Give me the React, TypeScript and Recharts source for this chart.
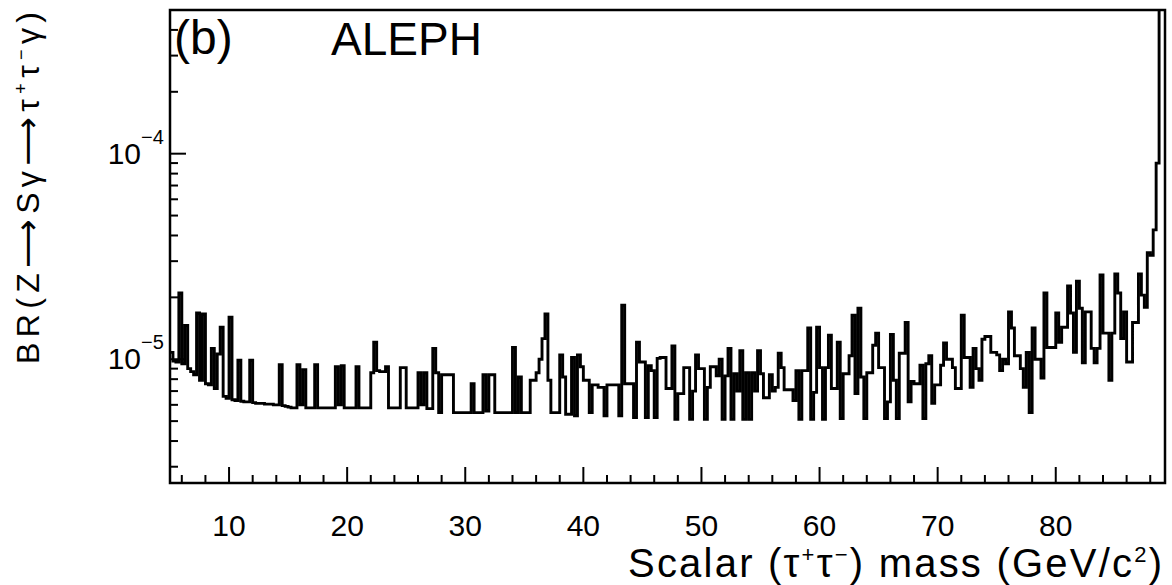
import React from 'react';
import { LineChart, Line, XAxis, YAxis, ReferenceArea } from 'recharts';

// Histogram binning (GeV)
const BIN_START = 5;
const BIN_WIDTH = 0.25;
const MASS_MAX = 89.25;

// 95% CL upper limit on BR(Z -> S gamma -> tau tau gamma), per 0.25 GeV bin, in units of 1e-6
const br05to15 = [10.8, 9.8, 9.7, 21, 9.5, 14.6, 9.0, 8.7, 8.4, 16.8,
  7.9, 16.6, 7.6, 7.5, 11.3, 7.2, 10.6, 14.3, 6.6, 6.45,
  16, 6.35, 6.3, 9.9, 6.25, 6.2, 6.2, 9.9, 6.15, 6.1,
  6.1, 6.1, 6.05, 6.05, 6.05, 6.0, 6.0, 9.4, 5.95, 5.9];
const br15to25 = [5.85, 5.8, 5.8, 9.4, 6.0, 8.9, 5.8, 5.8, 5.8, 9.4,
  5.8, 5.8, 5.8, 5.8, 5.8, 5.8, 9.2, 6.0, 9.3, 5.8,
  5.8, 5.8, 5.8, 9.2, 5.8, 5.8, 5.8, 5.8, 8.6, 12.1,
  8.8, 8.7, 8.7, 9.2, 5.8, 5.8, 5.8, 5.8, 9.1, 9.1];
const br25to35 = [5.8, 5.8, 5.8, 5.8, 8.6, 6.0, 8.6, 5.75, 5.75, 11.3,
  8.6, 5.5, 8.4, 8.4, 8.4, 8.4, 5.5, 5.5, 5.5, 5.5,
  5.5, 5.5, 7.6, 5.5, 5.5, 5.5, 8.4, 5.6, 8.4, 8.4,
  5.5, 5.5, 5.5, 5.5, 5.5, 5.5, 11.4, 5.5, 8.2, 5.5];
const br35to45 = [5.5, 5.5, 7.9, 7.9, 8.6, 10.0, 12.6, 16.6, 7.9, 5.5,
  5.5, 5.5, 10.5, 8.2, 5.4, 5.4, 10.2, 5.3, 10.5, 9.2,
  7.9, 7.9, 5.5, 7.5, 7.5, 7.3, 7.3, 5.3, 7.5, 7.5,
  7.5, 7.5, 5.3, 18.3, 7.6, 7.6, 7.6, 5.2, 12.1, 9.7];
const br45to55 = [9.7, 5.2, 9.3, 8.8, 5.2, 10.1, 10.2, 10.2, 7.2, 7.2,
  11.6, 5.1, 6.8, 6.8, 9.1, 9.1, 5.1, 7.0, 10.5, 9.0,
  9.0, 5.1, 7.3, 9.2, 9.2, 8.3, 10.0, 5.1, 8.3, 11.3,
  5.1, 8.5, 7.0, 11.0, 5.1, 8.6, 5.1, 8.6, 7.0, 11.0];
const br55to65 = [8.5, 6.5, 6.5, 8.4, 7.0, 7.3, 10.7, 9.1, 7.1, 7.1,
  7.1, 6.3, 8.8, 5.1, 8.8, 8.8, 14.2, 5.1, 6.9, 14.3,
  9.1, 5.1, 9.1, 13.1, 7.2, 7.2, 12.1, 5.15, 8.5, 8.5,
  10.4, 16.4, 6.8, 17.7, 8.2, 5.15, 8.6, 8.6, 11.7, 13.4];
const br65to75 = [9.1, 9.1, 5.15, 6.2, 13.2, 7.9, 5.15, 10.7, 10.7, 15.1,
  6.2, 7.8, 7.6, 7.6, 9.35, 5.15, 9.5, 10.4, 6.1, 7.5,
  7.5, 9.35, 12.0, 10.0, 10.0, 9.1, 7.2, 7.2, 16.4, 10.2,
  10.2, 7.3, 11.3, 9.0, 7.9, 12.5, 12.9, 12.9, 10.8, 10.8];
const br75to85 = [10.5, 8.8, 10.0, 9.5, 17, 14.2, 10.4, 10.4, 9.0, 7.3,
  10.8, 5.5, 14.2, 10.0, 10.0, 8.1, 21, 11.4, 11.4, 11.4,
  16.8, 12.1, 14.3, 14.3, 22.7, 16.8, 10.8, 24, 17.7, 9.6,
  17, 17, 11.3, 9.6, 11.3, 25.7, 13.4, 13.4, 7.9, 13.4];
const br85to89 = [26, 21, 12.6, 17, 9.7, 9.7, 15.1, 15.1, 26, 20.5,
  17.9, 33, 32, 42.6, 90, 900, 900];

// Axes
const X_TICKS = [6, 8, 10, 12, 14, 16, 18, 20, 22, 24, 26, 28, 30, 32, 34, 36, 38, 40, 42, 44, 46, 48, 50,
  52, 54, 56, 58, 60, 62, 64, 66, 68, 70, 72, 74, 76, 78, 80, 82, 84, 86, 88];
const X_LABELS = [10, 20, 30, 40, 50, 60, 70, 80];
const Y_TICKS = [3, 4, 5, 6, 7, 8, 9, 10, 20, 30, 40, 50, 60, 70, 80, 90, 100, 200, 300, 400];
const Y_MAJOR = [10, 100];
const Y_EXPONENTS = ['−5', '−4'];
const Y_DOMAIN = [2.5, 500];

const allBins = [...br05to15, ...br15to25, ...br25to35, ...br35to45, ...br45to55,
  ...br55to65, ...br65to75, ...br75to85, ...br85to89];
const data = allBins.map((v, i) => ({ m: BIN_START + i * BIN_WIDTH, br: v }));
data.push({ m: MASS_MAX, br: allBins[allBins.length - 1] });

const FONT = '"Liberation Sans", Arial, Helvetica, "DejaVu Sans", sans-serif';

const XTick = (props: any) => {
  const { x, y, payload } = props;
  const major = X_LABELS.includes(payload.value);
  return (
    <g>
      <line x1={x} x2={x} y1={y} y2={y - (major ? 16 : 8)} stroke="#000" strokeWidth={2} />
      {major && (
        <text x={x} y={y + 53} textAnchor="middle" fontSize={30} fontFamily={FONT} fill="#000">
          {payload.value}
        </text>
      )}
    </g>
  );
};

const YTick = (props: any) => {
  const { x, y, payload } = props;
  const idx = Y_MAJOR.indexOf(payload.value);
  const major = idx >= 0;
  return (
    <g>
      <line x1={x} x2={x + (major ? 16 : 8)} y1={y} y2={y} stroke="#000" strokeWidth={2} />
      {major && (
        <g>
          <text x={x - 29} y={y + 10} textAnchor="end" fontSize={30} fontFamily={FONT} fill="#000">10</text>
          <text x={x - 29} y={y - 10} textAnchor="start" fontSize={20} fontFamily={FONT} fill="#000">
            {Y_EXPONENTS[idx]}
          </text>
        </g>
      )}
    </g>
  );
};

export default function App() {
  return (
    <div style={{ position: 'absolute', left: 0, top: 0, width: 1172, height: 585, background: '#fff' }}>
      <LineChart width={1172} height={585} data={data} margin={{ top: 10, right: 7, bottom: 0, left: 0 }}>
        <XAxis
          dataKey="m"
          type="number"
          domain={[BIN_START, MASS_MAX]}
          allowDataOverflow
          ticks={X_TICKS}
          interval={0}
          height={102}
          tickSize={0}
          tickMargin={0}
          axisLine={false}
          tickLine={false}
          tick={<XTick />}
        />
        <YAxis
          type="number"
          scale="log"
          domain={Y_DOMAIN}
          allowDataOverflow
          ticks={Y_TICKS}
          interval={0}
          width={170}
          tickSize={0}
          tickMargin={0}
          axisLine={false}
          tickLine={false}
          tick={<YTick />}
        />
        <ReferenceArea
          x1={BIN_START}
          x2={MASS_MAX}
          y1={Y_DOMAIN[0]}
          y2={Y_DOMAIN[1]}
          fill="none"
          fillOpacity={0}
          stroke="#000"
          strokeWidth={2.5}
        />
        <Line
          type="stepAfter"
          dataKey="br"
          stroke="#000"
          strokeWidth={2.9}
          dot={false}
          activeDot={false}
          isAnimationActive={false}
        />
      </LineChart>
      <svg width={1172} height={585} style={{ position: 'absolute', left: 0, top: 0, pointerEvents: 'none' }}>
        <text x={174} y={54} fontSize={48} fontFamily={FONT} fill="#000">(b)</text>
        <text x={331} y={55} fontSize={46} fontFamily={FONT} fill="#000">ALEPH</text>
        <text x={628} y={577} fontSize={40} fontFamily={FONT} fill="#000" textLength={534} lengthAdjust="spacing">
          Scalar (τ<tspan dy={-15} fontSize={22}>+</tspan><tspan dy={15}>τ</tspan><tspan dy={-15} fontSize={22}>−</tspan><tspan dy={15}>) mass (GeV/c</tspan><tspan dy={-15} fontSize={22}>2</tspan><tspan dy={15}>)</tspan>
        </text>
        <text
          x={39}
          y={188}
          transform="rotate(-90 39 188)"
          textAnchor="middle"
          fontSize={32}
          fontFamily={FONT}
          fill="#000"
          textLength={352}
          lengthAdjust="spacing"
        >
          BR(Z<tspan fontFamily='"DejaVu Sans", sans-serif' fontSize={34}>⟶</tspan>Sγ<tspan fontFamily='"DejaVu Sans", sans-serif' fontSize={34}>⟶</tspan>τ<tspan dy={-12} fontSize={18}>+</tspan><tspan dy={12}>τ</tspan><tspan dy={-12} fontSize={18}>−</tspan><tspan dy={12}>γ)</tspan>
        </text>
      </svg>
    </div>
  );
}
